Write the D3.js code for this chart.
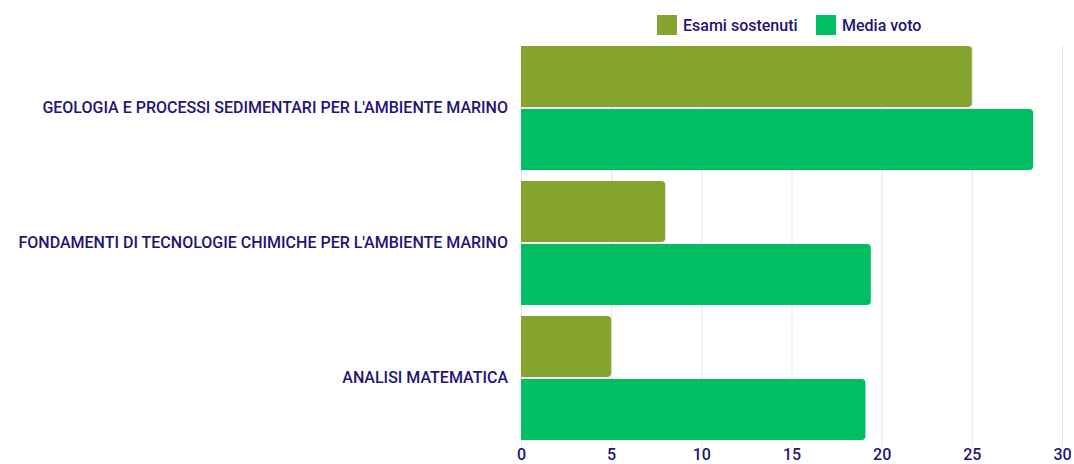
<!DOCTYPE html>
<html>
<head>
<meta charset="utf-8">
<script src="https://cdn.jsdelivr.net/npm/d3@7"></script>
<style>
  body { margin: 0; background: #fff; }
  text { font-family: Roboto, "Noto Sans", sans-serif; fill: #221577; font-weight: 500; }
</style>
</head>
<body>
<div id="chart"></div>
<script>
// data
categories = [
  "GEOLOGIA E PROCESSI SEDIMENTARI PER L'AMBIENTE MARINO",
  "FONDAMENTI DI TECNOLOGIE CHIMICHE PER L'AMBIENTE MARINO",
  "ANALISI MATEMATICA"
]
subgroups = ["Esami sostenuti", "Media voto"]
esami = [25, 8, 5]
media = [28.4, 19.4, 19.1]
xTicks = [0, 5, 10, 15, 20, 25, 30]
color = ["#84a42e", "#00bf63"]

width = 1074
height = 464
margin = ({top: 46, right: 11, bottom: 17, left: 521})

source = categories.map((c, i) => ({name: c, values: [esami[i], media[i]]}))

const svg = d3.select("#chart").append("svg")
  .attr("width", width)
  .attr("height", height)

x = d3.scaleLinear()
  .domain([0, 30])
  .range([margin.left, width - margin.right - 1])

y0 = d3.scaleBand()
  .domain(categories)
  .range([margin.top - 5.5, height - margin.bottom - 1.5])
  .paddingInner(0.08)
  .paddingOuter(0.04)

y1 = d3.scaleBand()
  .domain(subgroups)
  .range([0, y0.bandwidth()])
  .paddingInner(0.035)

// grid lines
svg.append("g")
  .selectAll("line")
  .data(xTicks)
  .enter().append("line")
  .attr("x1", d => x(d) + 0.5)
  .attr("x2", d => x(d) + 0.5)
  .attr("y1", margin.top)
  .attr("y2", height - margin.bottom)
  .attr("stroke", "#e4e3f1")
  .attr("stroke-width", 1)

// bars with rounded right end
function barPath(x0, x1, yt, h, r) {
  r = Math.min(r, (x1 - x0))
  return `M${x0},${yt}H${x1 - r}Q${x1},${yt} ${x1},${yt + r}V${yt + h - r}Q${x1},${yt + h} ${x1 - r},${yt + h}H${x0}Z`
}

const group = svg.append("g")
  .selectAll(".group")
  .data(source)
  .enter().append("g")
  .attr("class", "group")
  .attr("transform", d => `translate(0,${y0(d.name)})`)

group.selectAll("path")
  .data(d => d.values.map((v, i) => ({key: subgroups[i], value: v, i: i})))
  .enter().append("path")
  .attr("d", d => barPath(x(0), x(d.value), y1(d.key), y1.bandwidth(), 4))
  .attr("fill", d => color[d.i])

// category labels
svg.append("g")
  .selectAll("text")
  .data(categories)
  .enter().append("text")
  .attr("x", margin.left - 13)
  .attr("y", d => y0(d) + y0.bandwidth() / 2 - 1)
  .attr("dy", "0.35em")
  .attr("text-anchor", "end")
  .style("font-size", "16px")
  .text(d => d)

// x axis labels
const xAxis = d3.axisBottom(x)
  .tickValues(xTicks)
  .tickSize(0)
  .tickPadding(2)

svg.append("g")
  .attr("transform", `translate(0,${height - margin.bottom})`)
  .call(xAxis)
  .call(g => g.select(".domain").remove())
  .selectAll("text")
  .style("font-size", "16px")
  .style("font-family", "Roboto, sans-serif")
  .attr("fill", "#221577")

// legend
const legend = svg.append("g")
  .attr("transform", "translate(657,15)")

const legendX = [0, 159]
const entry = legend.selectAll(".entry")
  .data(subgroups)
  .enter().append("g")
  .attr("class", "entry")
  .attr("transform", (d, i) => `translate(${legendX[i]},0)`)

entry.append("rect")
  .attr("width", 20)
  .attr("height", 20)
  .attr("fill", (d, i) => color[i])

entry.append("text")
  .attr("x", 26)
  .attr("y", 10)
  .attr("dy", "0.35em")
  .style("font-size", "16px")
  .text(d => d)
</script>
</body>
</html>
